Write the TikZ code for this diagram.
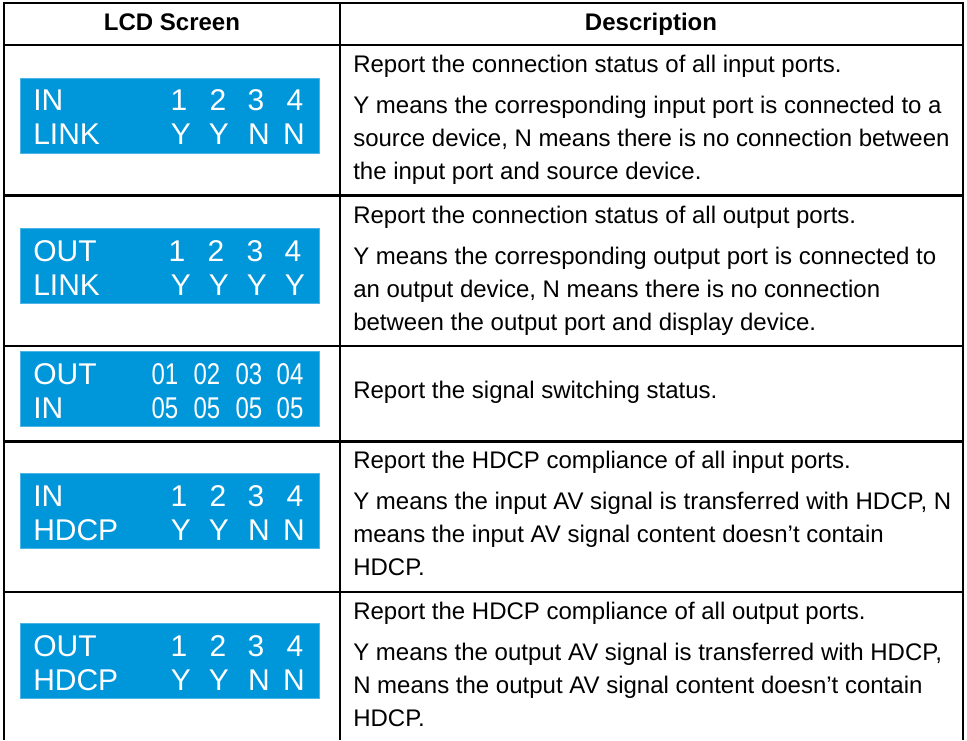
\documentclass[tikz,border=0pt]{standalone}
\usepackage{fontspec}
\setmainfont{Liberation Sans}
\usetikzlibrary{positioning}
\definecolor{lcdblue}{HTML}{0096DA}

\begin{document}
\begin{tikzpicture}[
  x=0.75pt, y=-0.75pt,
  grid/.style={line width=1.9pt},
  head/.style={font=\bfseries\fontsize{18}{22}\selectfont, inner sep=0pt,
    anchor=base},
  screen/.style={fill=lcdblue, draw=lcdblue!70!white, line width=0.6pt,
    minimum width=224.25pt, minimum height=56.25pt, inner sep=0pt,
    anchor=north west},
  lcd/.style={text=white, font=\fontsize{22.5}{26}\selectfont,
    inner sep=0pt, anchor=base},
  desc/.style={font=\fontsize{18}{24.75}\selectfont, align=left,
    inner sep=0pt, anchor=base west}
]
  \useasboundingbox (0,0) rectangle (967,740);

  % Table
  \draw[grid] (4,740) -- (4,3) -- (963,3) -- (963,740);
  \draw[grid] (340,3) -- (340,740);
  \foreach \y in {45,195.5,346,441.5,592} {
    \draw[grid] (4,\y) -- (963,\y);
  }

  % Header
  \node[head] (hlcd) at (172,30) {LCD Screen};
  \node[head] (hdesc) at (651,30) {Description};

  % Screen 1
  \node[screen] (scr1) at (20,78) {};
  \node[lcd, anchor=base west] (scr1a) at (33,110) {IN};
  \node[lcd, anchor=base west] (scr1b) at (33,144) {LINK};
  \foreach \x/\v [count=\i] in {179/1,218/2,256/3,295/4} {
    \node[lcd] (scr1n\i) at (\x,110) {\v};
  }
  \foreach \x/\v [count=\i] in {181/Y,219/Y,259/N,294/N} {
    \node[lcd] (scr1s\i) at (\x,144) {\v};
  }

  % Screen 2
  \node[screen] (scr2) at (20,228) {};
  \node[lcd, anchor=base west] (scr2a) at (33,261) {OUT};
  \node[lcd, anchor=base west] (scr2b) at (33,295) {LINK};
  \foreach \x/\v [count=\i] in {177/1,216/2,255/3,293/4} {
    \node[lcd] (scr2n\i) at (\x,261) {\v};
  }
  \foreach \x/\v [count=\i] in {181/Y,219/Y,257/Y,295/Y} {
    \node[lcd] (scr2s\i) at (\x,295) {\v};
  }

  % Screen 3
  \node[screen] (scr3) at (20,351) {};
  \node[lcd, anchor=base west] (scr3a) at (33,384) {OUT};
  \node[lcd, anchor=base west] (scr3b) at (33,418) {IN};
  \foreach \x/\v [count=\i] in {165/01,207/02,249/03,290/04} {
    \node[lcd] (scr3n\i) at (\x,384) {\scalebox{0.8}[1]{\v}};
  }
  \foreach \x [count=\i] in {165,207,249,290} {
    \node[lcd] (scr3s\i) at (\x,418) {\scalebox{0.8}[1]{05}};
  }

  % Screen 4
  \node[screen] (scr4) at (20,473) {};
  \node[lcd, anchor=base west] (scr4a) at (33,506) {IN};
  \node[lcd, anchor=base west] (scr4b) at (33,540) {HDCP};
  \foreach \x/\v [count=\i] in {179/1,218/2,256/3,295/4} {
    \node[lcd] (scr4n\i) at (\x,506) {\v};
  }
  \foreach \x/\v [count=\i] in {181/Y,219/Y,259/N,294/N} {
    \node[lcd] (scr4s\i) at (\x,540) {\v};
  }

  % Screen 5
  \node[screen] (scr5) at (20,623) {};
  \node[lcd, anchor=base west] (scr5a) at (33,656) {OUT};
  \node[lcd, anchor=base west] (scr5b) at (33,690) {HDCP};
  \foreach \x/\v [count=\i] in {179/1,218/2,256/3,295/4} {
    \node[lcd] (scr5n\i) at (\x,656) {\v};
  }
  \foreach \x/\v [count=\i] in {181/Y,219/Y,259/N,294/N} {
    \node[lcd] (scr5s\i) at (\x,690) {\v};
  }

  % Descriptions (multi-line nodes sit on their last baseline)
  \node[desc] (d1a) at (353,72) {Report the connection status of all input ports.};
  \node[desc] (d1b) at (353,179) {Y means the corresponding input port is connected to a\\
    source device, N means there is no connection between\\
    the input port and source device.};

  \node[desc] (d2a) at (353,223) {Report the connection status of all output ports.};
  \node[desc] (d2b) at (353,330) {Y means the corresponding output port is connected to\\
    an output device, N means there is no connection\\
    between the output port and display device.};

  \node[desc] (d3a) at (353,398) {Report the signal switching status.};

  \node[desc] (d4a) at (353,468) {Report the HDCP compliance of all input ports.};
  \node[desc] (d4b) at (353,575) {Y means the input AV signal is transferred with HDCP, N\\
    means the input AV signal content doesn’t contain\\
    HDCP.};

  \node[desc] (d5a) at (353,619) {Report the HDCP compliance of all output ports.};
  \node[desc] (d5b) at (353,726) {Y means the output AV signal is transferred with HDCP,\\
    N means the output AV signal content doesn’t contain\\
    HDCP.};
\end{tikzpicture}
\end{document}
